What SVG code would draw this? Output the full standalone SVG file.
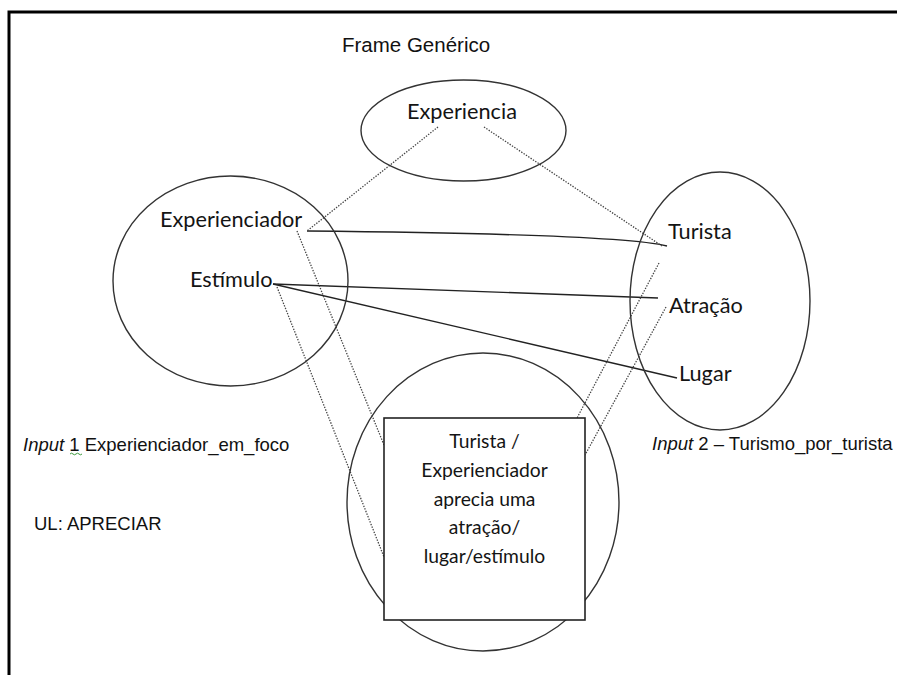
<svg xmlns="http://www.w3.org/2000/svg" width="897" height="675" viewBox="0 0 897 675">
  <style>
    .shape { fill: none; stroke: #333; stroke-width: 1.4; }
    .box { fill: #fff; stroke: #222; stroke-width: 1.6; }
    .solid { fill: none; stroke: #222; stroke-width: 1.4; }
    .dotted { fill: none; stroke: #444; stroke-width: 1.3; stroke-dasharray: 1.4 1.4; }
    .lbl { font-family: Lato, "Open Sans", sans-serif; font-size: 21.7px; fill: #141414; }
    .inner { font-family: Lato, "Open Sans", sans-serif; font-size: 19.3px; fill: #141414; text-anchor: middle; }
    .arial { font-family: "Liberation Sans", Arial, sans-serif; font-size: 18.5px; fill: #111; }
  </style>

  <!-- page frame -->
  <path d="M9,675 V12 H897" fill="none" stroke="#000" stroke-width="3"/>

  <!-- connectors -->
  <g id="connectors">
    <path class="solid" d="M307,231 Q620,234 667,246"/>
    <path class="solid" d="M273,284 L658,298"/>
    <path class="solid" d="M273,284 L677,378"/>
    <path class="dotted" d="M438,127 L307,231"/>
    <path class="dotted" d="M484,127 L662,246"/>
    <path class="dotted" d="M297,231 L384,445"/>
    <path class="dotted" d="M277,287 L384,557"/>
    <path class="dotted" d="M659,263 L577,418"/>
    <path class="dotted" d="M666,307 L585,455"/>
  </g>

  <!-- generic frame -->
  <g id="frame-title">
    <text class="arial" x="342" y="52" style="font-size:20.5px">Frame Genérico</text>
  </g>
  <g id="generic">
    <ellipse class="shape" cx="463.5" cy="130.5" rx="102.5" ry="50.5"/>
    <text class="lbl" x="462" y="119" text-anchor="middle">Experiencia</text>
  </g>

  <!-- input space 1 -->
  <g id="input1">
    <ellipse class="shape" cx="230.5" cy="281" rx="117.5" ry="105"/>
    <text class="lbl" x="160" y="227">Experienciador</text>
    <text class="lbl" x="190" y="287">Estímulo</text>
  </g>
  <g id="input1-label">
    <text class="arial" x="23" y="451"><tspan font-style="italic">Input</tspan> 1 Experienciador_em_foco</text>
    <path d="M70,454 q1.5,-1.6 3,0 t3,0 t3,0 t3,0" fill="none" stroke="#3c9a3c" stroke-width="1"/>
  </g>
  <g id="ul-label">
    <text class="arial" x="34" y="530">UL: APRECIAR</text>
  </g>

  <!-- input space 2 -->
  <g id="input2">
    <ellipse class="shape" cx="720" cy="301" rx="90" ry="129"/>
    <text class="lbl" x="668" y="239">Turista</text>
    <text class="lbl" x="669" y="313">Atração</text>
    <text class="lbl" x="679" y="381">Lugar</text>
  </g>
  <g id="input2-label">
    <text class="arial" x="652" y="450"><tspan font-style="italic">Input</tspan> 2 – Turismo_por_turista</text>
  </g>

  <!-- blended space -->
  <g id="blend">
    <ellipse class="shape" cx="483" cy="502" rx="136" ry="149"/>
    <rect class="box" x="384" y="418" width="201" height="202"/>
    <text class="inner" x="484.5" y="448">Turista /</text>
    <text class="inner" x="484.5" y="477">Experienciador</text>
    <text class="inner" x="484.5" y="506">aprecia uma</text>
    <text class="inner" x="484.5" y="534">atração/</text>
    <text class="inner" x="484.5" y="563">lugar/estímulo</text>
  </g>
</svg>
